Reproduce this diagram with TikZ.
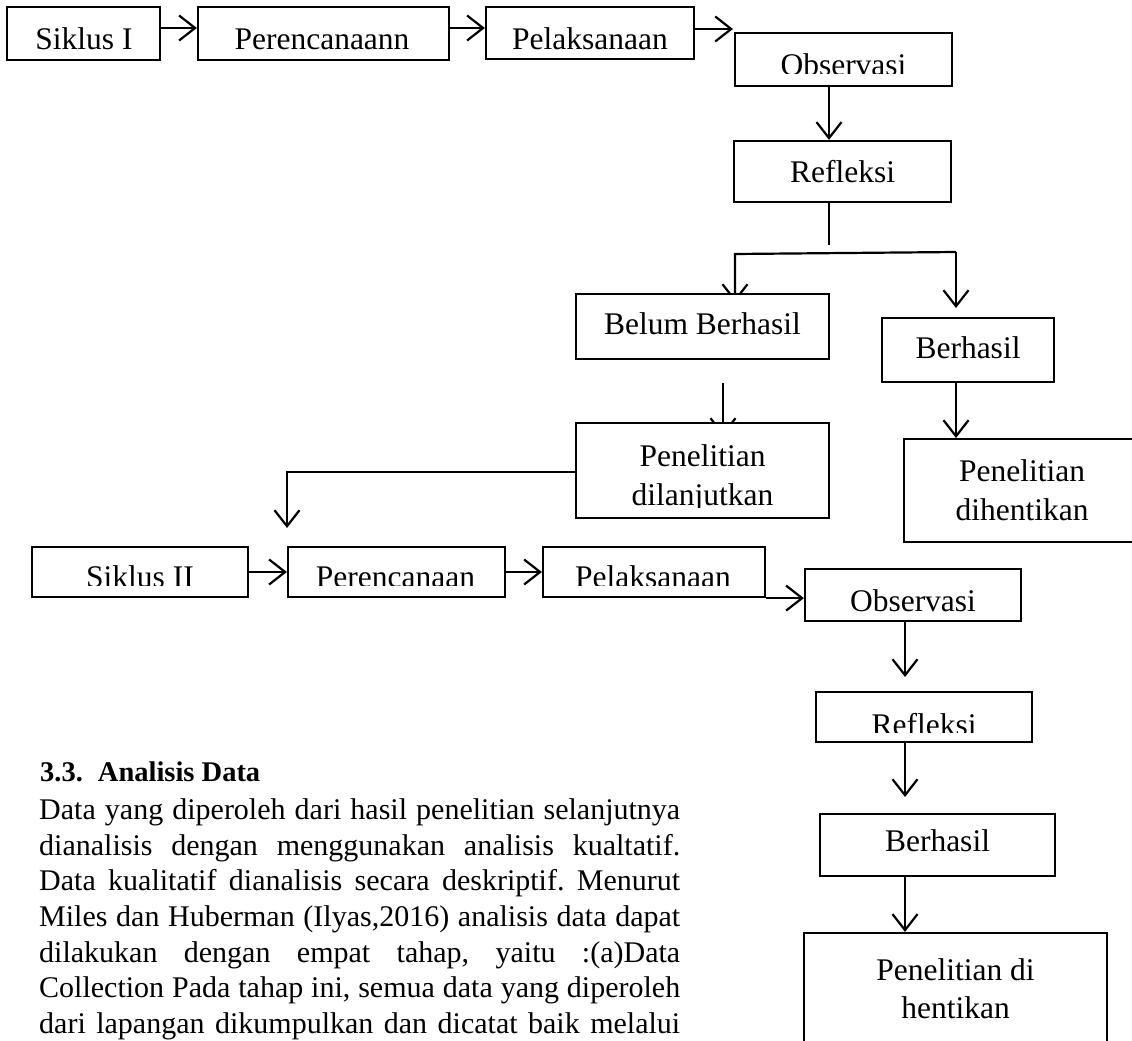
\documentclass[tikz,border=0pt]{standalone}
\usepackage{fontspec}
\setmainfont{Liberation Serif}
\usetikzlibrary{arrows.meta}
\pgfdeclarelayer{bg}
\pgfsetlayers{bg,main}
\frenchspacing
\begin{document}
\begin{tikzpicture}[x=1pt,y=-1pt,
  box/.style={draw, line width=2.2pt, fill=white, inner sep=0pt},
  lbl/.style={inner sep=0pt, anchor=base, font=\fontsize{31.5}{38}\selectfont},
  arr/.style={line width=2.2pt, -{Straight Barb[length=16pt,width=25pt,line width=2.2pt]}},
  ln/.style={line width=2.2pt},
  para/.style={inner sep=0pt, anchor=base west, font=\fontsize{30}{36}\selectfont},
  head/.style={inner sep=0pt, anchor=base west, font=\bfseries\fontsize{28.5}{34}\selectfont}]
\useasboundingbox (0,0) rectangle (1132,1041);

% ---------- boxes, first cycle ----------
\node[box, minimum width=153pt, minimum height=53pt] (s1) at (83.5,33.5) {};
\node[box, minimum width=251pt, minimum height=53pt] (p1) at (323.5,33.5) {};
\node[box, minimum width=208pt, minimum height=52pt] (l1) at (590,33) {};
\node[box, minimum width=217pt, minimum height=53pt] (o1) at (843.5,59.5) {};
\node[box, minimum width=217pt, minimum height=61pt] (r1) at (842.5,171.5) {};
\node[box, minimum width=253pt, minimum height=65pt] (bb) at (702.5,326.5) {};
\node[box, minimum width=172pt, minimum height=64pt] (bh1) at (968,350) {};
\node[box, minimum width=236pt, minimum height=103pt] (ph1) at (1022,490.5) {};
\node[box, minimum width=253pt, minimum height=95pt] (pl) at (702.5,470.5) {};

% ---------- boxes, second cycle ----------
\node[box, minimum width=216pt, minimum height=50pt] (s2) at (140,572) {};
\node[box, minimum width=217pt, minimum height=50pt] (p2) at (396.5,572) {};
\node[box, minimum width=222pt, minimum height=50pt] (l2) at (654,572) {};
\node[box, minimum width=216pt, minimum height=52pt] (o2) at (913,595) {};
\node[box, minimum width=216pt, minimum height=50pt] (r2) at (924,717) {};
\node[box, minimum width=235pt, minimum height=62pt] (bh2) at (937.5,845) {};
\node[box, minimum width=303pt, minimum height=130pt] (ph2) at (955.5,998) {};

% ---------- texts ----------
\node[lbl] (s1t) at (84,49) {Siklus I};
\node[lbl] (p1t) at (322,49) {Perencanaann};
\node[lbl] (l1t) at (590,49) {Pelaksanaan};
\begin{scope}
  \clip (735,33) rectangle (952,73.5);
  \node[lbl] (o1t) at (843.5,75.5) {Observasi};
\end{scope}
\node[lbl] (r1t) at (842.5,182) {Refleksi};
\node[lbl] (bbt) at (702.5,334) {Belum Berhasil};
\node[lbl] (bh1t) at (968,358) {Berhasil};
\node[lbl] (plt1) at (702.5,466) {Penelitian};
\begin{scope}
  \clip (576,423) rectangle (829,507);
  \node[lbl] (plt2) at (702.5,505) {dilanjutkan};
\end{scope}
\node[lbl] (pht1) at (1022,481) {Penelitian};
\node[lbl] (pht2) at (1022,520) {dihentikan};

\begin{scope}
  \clip (32,547) rectangle (1060,585.5);
  \node[lbl] (s2t) at (140,587.5) {Siklus II};
  \node[lbl] (p2t) at (395.5,587.5) {Perencanaan};
  \node[lbl] (l2t) at (653,587.5) {Pelaksanaan};
\end{scope}
\node[lbl] (o2t) at (913,611) {Observasi};
\begin{scope}
  \clip (816,692) rectangle (1032,732);
  \node[lbl] (r2t) at (924,735.5) {Refleksi};
\end{scope}
\node[lbl] (bh2t) at (937.5,851) {Berhasil};
\node[lbl] (pht3) at (955.5,980) {Penelitian di};
\node[lbl] (pht4) at (955.5,1018) {hentikan};

% ---------- paragraph ----------
\node[head] (h) at (40,781) {3.3.\hspace{15pt}Analisis Data};
\node[para] (t1) at (39,819) {\makebox[641pt][s]{Data yang diperoleh dari hasil penelitian selanjutnya}};
\node[para] (t2) at (39,855) {\makebox[641pt][s]{dianalisis dengan menggunakan analisis kualtatif.}};
\node[para] (t3) at (39,890.5) {\makebox[641pt][s]{Data kualitatif dianalisis secara deskriptif. Menurut}};
\node[para] (t4) at (39,926) {\makebox[641pt][s]{Miles dan Huberman (Ilyas,2016) analisis data dapat}};
\node[para] (t5) at (39,962) {\makebox[641pt][s]{dilakukan dengan empat tahap, yaitu :(a)Data}};
\node[para] (t6) at (39,997.5) {\makebox[641pt][s]{Collection Pada tahap ini, semua data yang diperoleh}};
\node[para] (t7) at (39,1033) {\makebox[641pt][s]{dari lapangan dikumpulkan dan dicatat baik melalui}};

% ---------- connectors ----------
\begin{pgfonlayer}{bg}
  \coordinate (ya) at (0,28);
  \coordinate (yb) at (0,29);
  \coordinate (oa) at (733,29);
  \draw[arr] (s1.east |- ya) -- (p1.west |- ya);
  \draw[arr] (p1.east |- ya) -- (l1.west |- ya);
  \draw[arr] (l1.east |- yb) -- (oa);
  \coordinate (xa) at (829,0);
  \draw[arr] (o1.south -| xa) -- (r1.north -| xa);
  \coordinate (rend) at (829,245);
  \draw[ln] (r1.south -| xa) -- (rend);
  \coordinate (hl) at (735,254);
  \coordinate (hr) at (956,252);
  \coordinate (hlt) at (735,302);
  \coordinate (hrt) at (956,308);
  \draw[arr] (hr) -- (hl) -- (hlt);
  \draw[arr] (hr) -- (hrt);
  \coordinate (pht) at (956,438);
  \draw[arr] (bh1.south -| hr) -- (pht);
  \coordinate (bls) at (723,383);
  \coordinate (blt) at (723,436);
  \draw[arr] (bls) -- (blt);
  \coordinate (turn) at (287,472);
  \coordinate (sktip) at (287,528);
  \draw[arr] (pl.west |- turn) -- (turn) -- (sktip);
  \draw[arr] (s2.east) -- (p2.west);
  \draw[arr] (p2.east) -- (l2.west);
  \draw[arr] (l2.south east) -- (l2.south east -| o2.west);
  \coordinate (xc) at (905,0);
  \coordinate (r2a) at (905,677);
  \coordinate (b2a) at (905,797);
  \draw[arr] (o2.south -| xc) -- (r2a);
  \draw[arr] (r2.south -| xc) -- (b2a);
  \draw[arr] (bh2.south -| xc) -- (ph2.north -| xc);
\end{pgfonlayer}
\end{tikzpicture}
\end{document}
